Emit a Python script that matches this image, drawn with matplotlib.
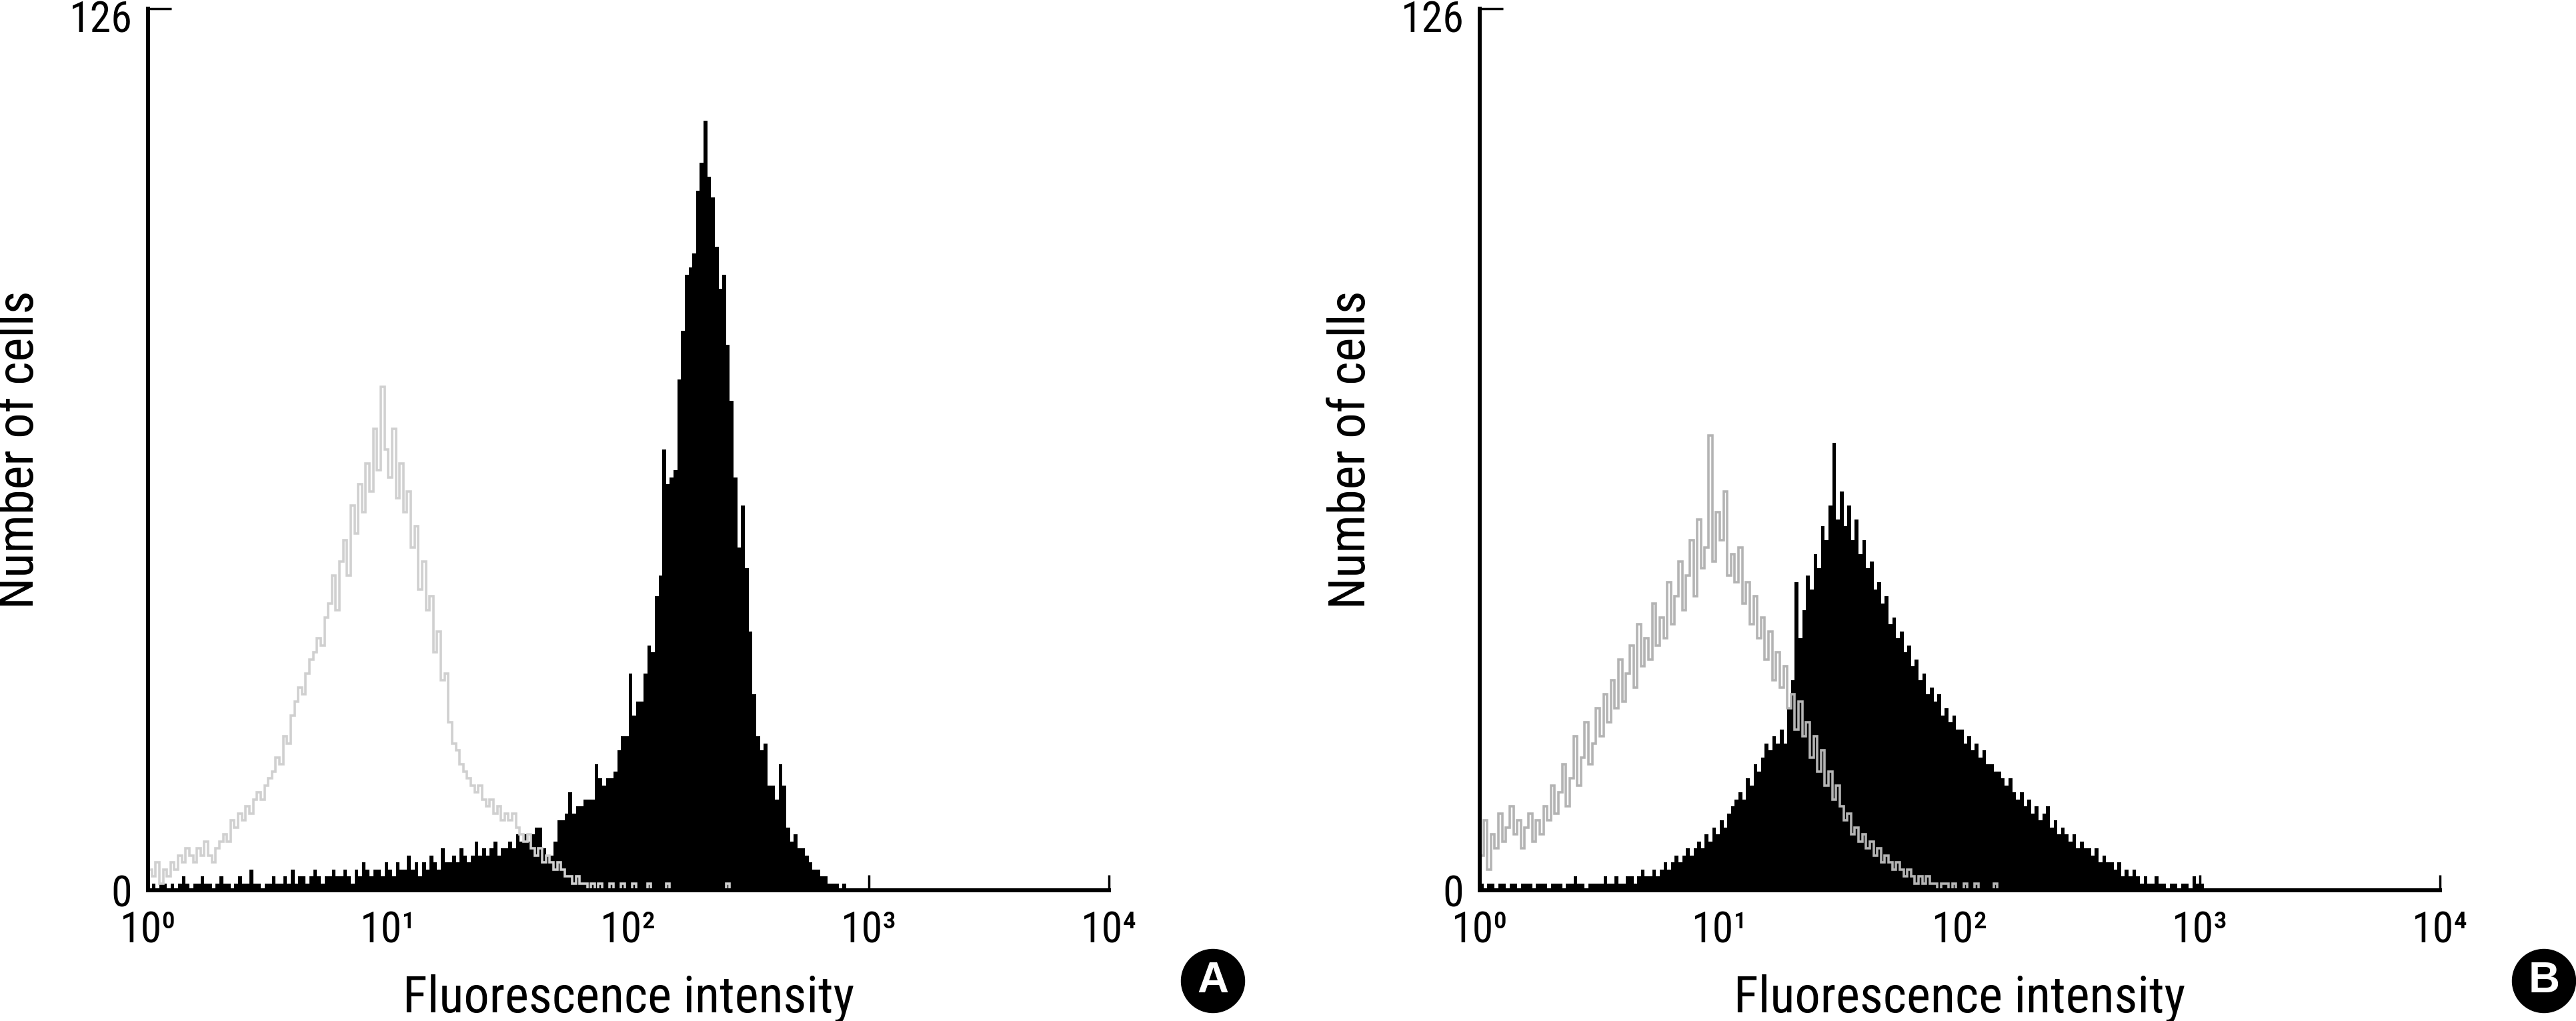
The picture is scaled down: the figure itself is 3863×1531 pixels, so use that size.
# Durchflusszytometrie-Histogramme (A und B), Kontrolle grau, Probe schwarz
import numpy as np
import matplotlib.pyplot as plt
from matplotlib import font_manager
from matplotlib.patches import Circle
from matplotlib.transforms import ScaledTranslation

# schmale Schrift suchen (Original: Helvetica Condensed)
vorhanden = {f.name for f in font_manager.fontManager.ttflist}
kandidaten = ['Liberation Sans Narrow', 'Arial Narrow', 'Roboto Condensed', 'Archivo Narrow',
              'IBM Plex Sans Condensed', 'PT Sans Narrow', 'Sofia Sans Condensed', 'Liberation Sans']
schmal = [k for k in kandidaten if k in vorhanden][0]
plt.rcParams['font.family'] = [schmal, 'DejaVu Sans']

# 256 Kanaele ueber 4 Dekaden, Kanal 0 beginnt bei 10^0
kanaele = 256
dekaden = [1, 10, 100, 1000, 10000]
dekaden_text = ['10⁰', '10¹', '10²', '10³', '10⁴']
y_ticks = [0, 126]
y_text = ['0', '126']
panels = ['A', 'B']

# Zellzahlen je Kanal (ab Kanal 0, Rest = 0)
a_kontrolle = [
    3, 2, 4, 1, 3, 2, 4, 3, 5, 4, 6, 5, 4, 6, 5, 7,
    5, 4, 6, 7, 8, 7, 10, 9, 11, 10, 12, 11, 13, 14, 13, 15,
    16, 17, 19, 18, 22, 21, 25, 27, 29, 28, 31, 33, 34, 36, 35, 39,
    41, 45, 40, 47, 50, 45, 55, 51, 58, 54, 61, 57, 66, 60, 72, 63,
    59, 66, 56, 61, 54, 57, 49, 52, 43, 47, 40, 42, 34, 37, 30, 31,
    24, 21, 20, 18, 17, 16, 15, 14, 15, 13, 12, 13, 11, 12, 10, 11,
    10, 11, 9, 8, 7, 8, 6, 5, 6, 4, 5, 4, 3, 4, 3, 2,
    2, 1, 2, 1, 1, 0, 1, 0, 1, 0, 0, 1, 0, 0, 1, 0,
    0, 1, 0, 0, 0, 1, 0, 0, 0, 0, 1, 0, 0, 0, 0, 0,
    0, 0, 0, 0, 0, 0, 0, 0, 0, 0, 1, 0,
]
a_probe = [
    0, 1, 0, 1, 1, 0, 1, 0, 1, 2, 1, 0, 1, 1, 2, 1,
    1, 0, 1, 2, 1, 1, 0, 1, 2, 1, 1, 3, 1, 1, 0, 1,
    1, 2, 1, 1, 2, 1, 3, 1, 2, 2, 1, 2, 3, 2, 1, 2,
    2, 3, 2, 2, 3, 2, 1, 3, 2, 4, 3, 2, 3, 3, 2, 4,
    3, 2, 4, 3, 3, 5, 3, 4, 2, 4, 3, 5, 4, 3, 6, 4,
    4, 5, 4, 6, 5, 4, 5, 7, 5, 6, 5, 6, 7, 5, 6, 6,
    7, 6, 8, 7, 8, 7, 8, 9, 9, 6, 5, 5, 7, 10, 10, 11,
    14, 11, 12, 12, 13, 13, 13, 18, 16, 15, 16, 16, 17, 20, 22, 22,
    31, 25, 27, 27, 31, 35, 34, 42, 45, 63, 58, 59, 60, 73, 80, 88,
    89, 91, 100, 104, 110, 102, 99, 92, 86, 88, 78, 70, 59, 49, 55, 46,
    37, 28, 22, 20, 21, 15, 15, 13, 18, 15, 9, 7, 8, 6, 6, 5,
    4, 3, 3, 2, 2, 1, 1, 1, 0, 1,
]
b_kontrolle = [
    5, 10, 3, 8, 6, 11, 7, 9, 12, 8, 10, 6, 9, 11, 7, 10,
    8, 12, 10, 15, 11, 14, 18, 12, 16, 22, 15, 19, 24, 18, 21, 26,
    22, 28, 24, 30, 26, 33, 27, 31, 35, 29, 38, 32, 36, 33, 41, 35,
    39, 36, 44, 38, 42, 47, 40, 45, 50, 42, 53, 46, 49, 65, 47, 54,
    50, 57, 45, 48, 44, 49, 41, 44, 38, 42, 36, 39, 33, 37, 30, 34,
    29, 32, 26, 28, 23, 27, 22, 24, 19, 22, 17, 20, 15, 17, 13, 15,
    12, 10, 11, 8, 9, 7, 8, 6, 7, 5, 6, 4, 5, 4, 3, 4,
    3, 2, 3, 2, 1, 2, 1, 2, 1, 1, 0, 1, 1, 0, 1, 0,
    0, 1, 0, 0, 1, 0, 0, 0, 0, 1, 0, 0, 0, 0, 0, 0,
]
b_probe = [
    1, 0, 1, 1, 0, 1, 1, 0, 1, 1, 0, 1, 1, 1, 0, 1,
    1, 1, 0, 1, 1, 1, 0, 1, 1, 2, 1, 1, 0, 1, 1, 1,
    1, 2, 1, 1, 2, 1, 1, 2, 2, 1, 2, 3, 2, 2, 3, 2,
    3, 4, 3, 4, 5, 4, 5, 6, 5, 6, 7, 6, 8, 7, 9, 8,
    10, 9, 11, 12, 13, 14, 13, 16, 15, 18, 17, 19, 21, 20, 22, 21,
    23, 21, 26, 30, 44, 36, 40, 45, 43, 48, 46, 52, 50, 55, 64, 53,
    57, 52, 55, 50, 53, 48, 50, 46, 47, 43, 44, 41, 42, 38, 39, 36,
    37, 34, 35, 32, 33, 30, 31, 28, 29, 27, 28, 25, 26, 24, 25, 23,
    23, 21, 22, 20, 21, 19, 20, 18, 18, 17, 17, 16, 15, 16, 14, 13,
    14, 12, 13, 11, 12, 10, 11, 12, 9, 10, 8, 9, 8, 7, 8, 6,
    7, 6, 6, 5, 6, 4, 5, 4, 4, 3, 4, 2, 3, 2, 3, 2,
    1, 2, 1, 1, 2, 1, 1, 0, 1, 1, 0, 1, 1, 0, 2, 1,
    1,
]


def auffuellen(werte):
    return np.pad(np.array(werte, dtype=float), (0, kanaele - len(werte)))


kanten = np.logspace(0, 4, kanaele + 1)

fig = plt.figure(figsize=(38.63, 15.31), dpi=100)
ax_a = fig.add_axes([0.05747, 0.12802, 0.37303, 0.86349])
ax_b = fig.add_axes([0.57442, 0.12802, 0.37277, 0.86349])

daten = [(ax_a, a_kontrolle, a_probe, '#d0d0d0'),
         (ax_b, b_kontrolle, b_probe, '#b4b4b4')]

for achsen, kontrolle, probe, grau in daten:
    achsen.stairs(auffuellen(probe), kanten, fill=True, color='black', zorder=1)
    achsen.stairs(auffuellen(kontrolle), kanten, color=grau, linewidth=2.6, zorder=1.5)

    achsen.set_xscale('log')
    achsen.set_xlim(1, 10000)
    achsen.set_ylim(0, 126)
    achsen.minorticks_off()

    # nur linke und untere Achse
    achsen.spines['top'].set_visible(False)
    achsen.spines['right'].set_visible(False)
    achsen.spines['left'].set_linewidth(4.3)
    achsen.spines['bottom'].set_linewidth(4.3)

    achsen.set_xticks(dekaden)
    achsen.set_xticklabels(dekaden_text)
    achsen.set_yticks(y_ticks)
    achsen.set_yticklabels(y_text)
    achsen.tick_params(axis='x', direction='in', length=16.5, width=2.5,
                       pad=21, labelsize=46)
    achsen.tick_params(axis='y', direction='in', length=25, width=2.5,
                       pad=17, labelsize=46)

    achsen.set_xlabel('Fluorescence intensity', fontsize=55)
    achsen.set_ylabel('Number of cells', fontsize=55)
    achsen.xaxis.set_label_coords(0.5, -0.095)
    achsen.yaxis.set_label_coords(-0.108, 0.5)

    # Beschriftung 126 etwas nach unten
    oben = achsen.get_yticklabels()[1]
    oben.set_transform(oben.get_transform()
                       + ScaledTranslation(0, -0.115, fig.dpi_scale_trans))

# Kennbuchstaben im schwarzen Kreis (Position in Zoll)
for buchstabe, x_mitte in zip(panels, [18.19, 38.15]):
    fig.add_artist(Circle((x_mitte, 0.60), 0.475, color='black',
                          transform=fig.dpi_scale_trans))
    fig.text(x_mitte, 0.60, buchstabe, transform=fig.dpi_scale_trans,
             color='white', fontsize=47, fontweight='bold',
             family=['Liberation Sans', 'DejaVu Sans'],
             ha='center', va='center')

fig.savefig('out.png', dpi=100)
